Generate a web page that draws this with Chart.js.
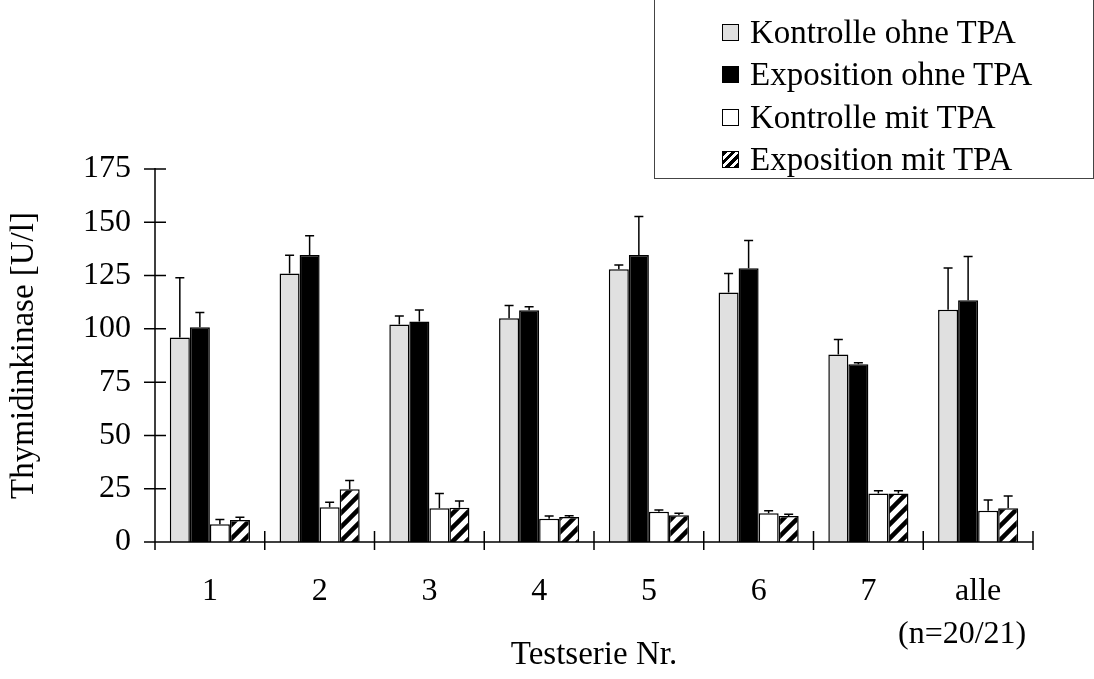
<!DOCTYPE html>
<html lang="de">
<head>
<meta charset="UTF-8">
<title>Thymidinkinase</title>
<script src="https://cdn.jsdelivr.net/npm/chart.js"></script>
<style>
  html, body { margin: 0; padding: 0; background: #fff; }
  #wrap { position: relative; width: 1094px; height: 679px; }
  #legend {
    position: absolute; left: 654px; top: -2px; width: 440px; height: 181px;
    border: 1px solid #444; box-sizing: border-box;
    font-family: "Liberation Serif", "Times New Roman", serif; font-size: 33px; color: #000;
  }
  .item { position: absolute; left: 67px; height: 30px; line-height: 30px; white-space: nowrap; }
  .sw { display: inline-block; width: 15px; height: 15px; border: 1.5px solid #000; vertical-align: 2px; margin-right: 11px; }
</style>
</head>
<body>
<div id="wrap">
  <canvas id="c" width="1094" height="679"></canvas>
  <div id="legend"></div>
</div>
<script>
// second line of the last label sits a bit left of "alle" in the original, hence the trailing em space
const categories = ["1", "2", "3", "4", "5", "6", "7", ["alle", "(n=20/21)\u2003"]];
const seriesNames = ["Kontrolle ohne TPA", "Exposition ohne TPA", "Kontrolle mit TPA", "Exposition mit TPA"];

const kontrolleOhne = [96, 126, 102, 105, 128, 117, 88, 109];
const kontrolleOhneSD = [28, 8.5, 4, 6, 2, 9, 7, 19.5];
const expositionOhne = [100.7, 134.7, 103.4, 108.7, 134.7, 128.4, 83.4, 113.4];
const expositionOhneSD = [7, 9, 5.5, 1.7, 18, 13, 0.7, 20.5];
const kontrolleMit = [8.3, 16.3, 15.8, 10.9, 14.2, 13.5, 22.8, 14.7];
const kontrolleMitSD = [2.3, 2.3, 7, 1.3, 0.8, 1.2, 1.3, 5];
const expositionMit = [10.3, 24.7, 16.1, 11.7, 12.5, 12.2, 22.8, 15.8];
const expositionMitSD = [1.3, 4.1, 3.1, 0.6, 1, 0.8, 1.3, 5.8];

const yTicks = [0, 25, 50, 75, 100, 125, 150, 175];

// hatch pattern "/"
function hatch() {
  const s = 14;
  const p = document.createElement("canvas");
  p.width = s; p.height = s;
  const g = p.getContext("2d");
  g.fillStyle = "#fff";
  g.fillRect(0, 0, s, s);
  g.strokeStyle = "#000";
  g.lineWidth = 4.5;
  g.beginPath();
  g.moveTo(-2, s + 2); g.lineTo(s + 2, -2);
  g.moveTo(-2, 2); g.lineTo(2, -2);
  g.moveTo(s - 2, s + 2); g.lineTo(s + 2, s - 2);
  g.stroke();
  return document.getElementById("c").getContext("2d").createPattern(p, "repeat");
}

const fills = ["#e0e0e0", "#000000", "#ffffff", hatch()];
const values = [kontrolleOhne, expositionOhne, kontrolleMit, expositionMit];
const errors = [kontrolleOhneSD, expositionOhneSD, kontrolleMitSD, expositionMitSD];

// legend
const legend = document.getElementById("legend");
const swatchCss = ["background:#e0e0e0", "background:#000", "background:#fff",
  "background:repeating-linear-gradient(135deg,#000 0 3px,#fff 3px 6px)"];
seriesNames.forEach((n, i) => {
  const d = document.createElement("div");
  d.className = "item";
  d.style.top = (18 + i * 42.3) + "px";
  d.innerHTML = `<span class="sw" style="${swatchCss[i]}"></span>${n}`;
  legend.appendChild(d);
});

const errorBars = {
  id: "errorBars",
  afterDatasetsDraw(chart) {
    const ctx = chart.ctx;
    const y = chart.scales.y;
    ctx.save();
    ctx.strokeStyle = "#000";
    ctx.lineWidth = 1.5;
    chart.data.datasets.forEach((ds, i) => {
      chart.getDatasetMeta(i).data.forEach((bar, j) => {
        const y0 = y.getPixelForValue(ds.data[j]);
        const y1 = y.getPixelForValue(ds.data[j] + errors[i][j]);
        ctx.beginPath();
        ctx.moveTo(bar.x, y0); ctx.lineTo(bar.x, y1);
        ctx.moveTo(bar.x - 4.5, y1); ctx.lineTo(bar.x + 4.5, y1);
        ctx.stroke();
      });
    });
    ctx.restore();
  }
};

const axisTicks = {
  id: "axisTicks",
  afterDraw(chart) {
    const ctx = chart.ctx;
    const { x, y } = chart.scales;
    const a = chart.chartArea;
    ctx.save();
    ctx.strokeStyle = "#000";
    ctx.lineWidth = 1.5;
    ctx.beginPath();
    ctx.moveTo(a.left, a.top - 1); ctx.lineTo(a.left, a.bottom + 8);
    ctx.moveTo(a.left - 8, a.bottom); ctx.lineTo(a.right, a.bottom);
    yTicks.forEach(v => {
      const py = y.getPixelForValue(v);
      ctx.moveTo(a.left - 11, py); ctx.lineTo(a.left + 11, py);
    });
    const w = (a.right - a.left) / categories.length;
    for (let i = 1; i <= categories.length; i++) {
      const px = x.getPixelForValue(i - 1) + w / 2;
      ctx.moveTo(px, a.bottom - 11); ctx.lineTo(px, a.bottom + 8);
    }
    ctx.stroke();
    ctx.restore();
  }
};

const family = "'Liberation Serif', 'Times New Roman', serif";
const tickFont = { family, size: 32, lineHeight: 1.35 };
const titleFont = { family, size: 33 };

new Chart(document.getElementById("c"), {
  type: "bar",
  data: {
    labels: categories,
    datasets: seriesNames.map((n, i) => ({
      label: n,
      data: values[i],
      backgroundColor: fills[i],
      borderColor: "#000",
      borderWidth: 1.5,
      borderSkipped: "bottom"
    }))
  },
  options: {
    responsive: false,
    animation: false,
    events: [],
    layout: { padding: { top: 169, right: 61, left: 0, bottom: 0 } },
    categoryPercentage: 0.73,
    barPercentage: 1,
    plugins: { legend: { display: false }, tooltip: { enabled: false } },
    scales: {
      x: {
        grid: { display: false },
        border: { display: false },
        ticks: { color: "#000", font: tickFont, padding: 20, maxRotation: 0, autoSkip: false },
        title: { display: true, text: "Testserie Nr.", color: "#000", font: titleFont, padding: { top: 0, bottom: 4 } },
        afterFit(s) { s.height = 137; }
      },
      y: {
        min: 0, max: 175,
        afterBuildTicks(s) { s.ticks = yTicks.map(v => ({ value: v })); },
        grid: { display: false },
        border: { display: false },
        ticks: { color: "#000", font: tickFont, padding: 16 },
        title: { display: true, text: "Thymidinkinase [U/l]", color: "#000", font: titleFont, padding: { top: 5, bottom: 0 } },
        afterFit(s) { s.width = 155; }
      }
    }
  },
  plugins: [errorBars, axisTicks]
});
</script>
</body>
</html>
